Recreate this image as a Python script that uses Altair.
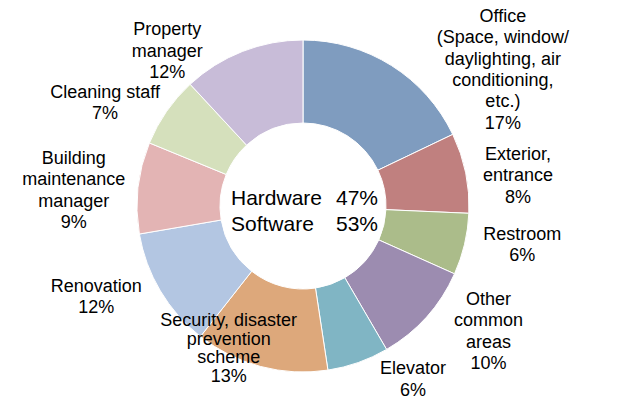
import altair as alt
import pandas as pd

# ---- data ----
categories = [
    "Office", "Exterior, entrance", "Restroom", "Other common areas", "Elevator",
    "Security, disaster prevention scheme", "Renovation",
    "Building maintenance manager", "Cleaning staff", "Property manager",
]
values = [17.9, 7.8, 6.0, 9.9, 6.0, 13.0, 11.7, 8.9, 6.9, 11.9]
label_texts = [
    "Office\n(Space, window/\ndaylighting, air\nconditioning,\netc.)\n17%",
    "Exterior,\nentrance\n8%",
    "Restroom\n6%",
    "Other\ncommon\nareas\n10%",
    "Elevator\n6%",
    "Security, disaster\nprevention\nscheme\n13%",
    "Renovation\n12%",
    "Building\nmaintenance\nmanager\n9%",
    "Cleaning staff\n7%",
    "Property\nmanager\n12%",
]
center_names = ["Hardware", "Software"]
center_pcts = ["47%", "53%"]

colors = ["#7F9CBF", "#C0807F", "#ABBC8A", "#9C8CB0", "#80B5C4",
          "#DDA87B", "#B3C6E2", "#E3B4B4", "#D5E0BC", "#C8BCD8"]

# ---- layout: first-line anchor of each label, as nudge from slice middle (deg) and radius (px) ----
label_dtheta = [14.4, -1.8, -5.9, -15.1, -14.5, 18.1, 9.4, 5.3, -5.0, -16.3]
label_radius = [275, 221, 221, 208, 197, 137, 222, 234, 228, 222]

PAD_TOP = 8
CX, CY = 295, 198 - PAD_TOP
FONT = "Liberation Sans"

total = sum(values)
cum = 0.0
mids = []
for v in values:
    mids.append(cum + v / 2)
    cum += v

df = pd.DataFrame({
    "idx": list(range(len(categories))),
    "category": categories,
    "value": values,
    "label": label_texts,
    "lab_theta": [m + d / 360 * total for m, d in zip(mids, label_dtheta)],
    "lab_r": label_radius,
})

theta_scale = alt.Scale(domain=[0, total])

arcs = alt.Chart(df).mark_arc(
    innerRadius=83, outerRadius=166, stroke="white", strokeWidth=1
).encode(
    theta=alt.Theta("value:Q", stack=True, scale=theta_scale),
    order=alt.Order("idx:Q"),
    color=alt.Color("category:N", scale=alt.Scale(domain=categories, range=colors), legend=None),
    x=alt.value(CX),
    y=alt.value(CY),
)


def label_layer(line_height, flt):
    return alt.Chart(df).transform_filter(flt).mark_text(
        font=FONT, fontSize=18, color="#000000", align="center", baseline="middle",
        lineHeight=line_height, lineBreak="\n"
    ).encode(
        theta=alt.Theta("lab_theta:Q", stack=None, scale=theta_scale),
        radius=alt.Radius("lab_r:Q", scale=None),
        text="label:N",
        x=alt.value(CX),
        y=alt.value(CY),
    )


labels = label_layer(21.3, "datum.idx != 5")
labels_sec = label_layer(18.7, "datum.idx == 5")

cdf = pd.DataFrame({"names": ["\n".join(center_names)], "pcts": ["\n".join(center_pcts)]})
cnames = alt.Chart(cdf).mark_text(
    font=FONT, fontSize=21, color="#000000", align="left", baseline="middle",
    lineHeight=26, lineBreak="\n"
).encode(text="names:N", x=alt.value(CX - 72), y=alt.value(CY - 7))
cpcts = alt.Chart(cdf).mark_text(
    font=FONT, fontSize=21, color="#000000", align="left", baseline="middle",
    lineHeight=26, lineBreak="\n"
).encode(text="pcts:N", x=alt.value(CX + 33), y=alt.value(CY - 7))

chart = alt.layer(arcs, labels, labels_sec, cnames, cpcts).properties(
    width=600, height=383, background="white",
    padding={"top": PAD_TOP, "left": 0, "right": 0, "bottom": 0},
    autosize=alt.AutoSizeParams(type="none")
).configure_view(stroke=None)

chart.save("out.html", embed_options={"renderer": "svg", "actions": False})
